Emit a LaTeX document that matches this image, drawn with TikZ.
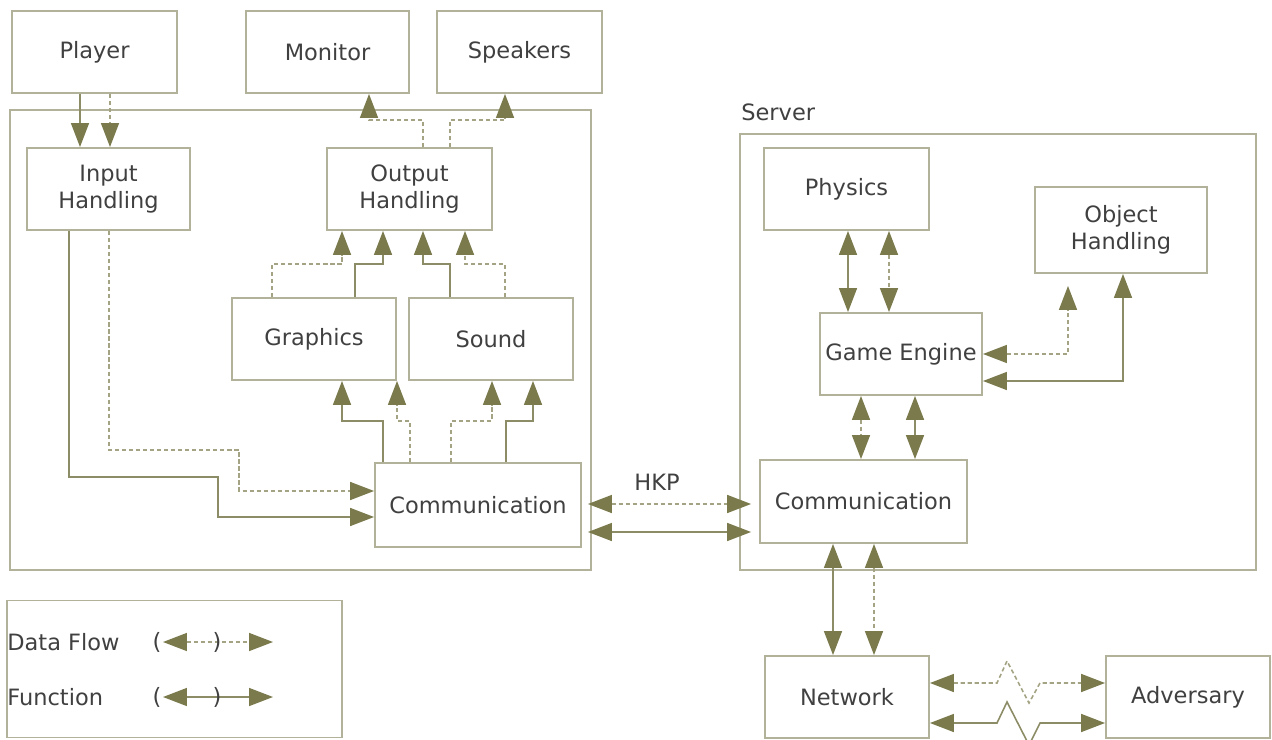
\documentclass[tikz,border=0pt]{standalone}
\usepackage{fontspec}
\setmainfont{DejaVu Sans}
\usetikzlibrary{arrows.meta}
\definecolor{boxc}{HTML}{B2B29A}
\definecolor{arrc}{HTML}{7A7A4C}
\definecolor{linec}{HTML}{8C8C66}
\definecolor{dashc}{HTML}{A4A484}
\definecolor{txtc}{HTML}{404040}
\tikzset{
  box/.style={draw=boxc, line width=1.1pt, inner sep=0pt, align=center, text=txtc,
    font=\fontsize{12.8}{15.4}\selectfont},
  lbl/.style={inner sep=0pt, text=txtc, font=\fontsize{12.8}{15.4}\selectfont},
  tri/.tip={Triangle[length=0.48cm, width=0.36cm, color=arrc, fill=arrc]},
  fn/.style={draw=linec, line width=0.9pt},
  df/.style={draw=dashc, line width=0.9pt, dash pattern=on 2.4pt off 1.6pt},
}
\begin{document}
\begin{tikzpicture}[x=0.02cm, y=-0.02cm]
\useasboundingbox (0,0) rectangle (1272,740);
\clip (0,0) rectangle (1272,740);
% boxes
\node[box, minimum width=3.30cm, minimum height=1.64cm] (player) at (94.5,52) {Player};
\node[box, minimum width=3.26cm, minimum height=1.64cm] (monitor) at (327.5,52) {Monitor};
\node[box, minimum width=3.30cm, minimum height=1.64cm] (speakers) at (519.5,52) {Speakers};
\node[box, minimum width=11.62cm, minimum height=9.20cm] (client) at (300.5,340) {};
\node[box, minimum width=3.26cm, minimum height=1.64cm] (input) at (108.5,189) {Input\\Handling};
\node[box, minimum width=3.30cm, minimum height=1.64cm] (output) at (409.5,189) {Output\\Handling};
\node[box, minimum width=3.28cm, minimum height=1.64cm] (graphics) at (314,339) {Graphics};
\node[box, minimum width=3.28cm, minimum height=1.64cm] (sound) at (491,339) {Sound};
\node[box, minimum width=4.12cm, minimum height=1.68cm] (ccomm) at (478,505) {Communication};
\node[lbl, anchor=west] (serverlbl) at (741,112) {Server};
\node[box, minimum width=10.32cm, minimum height=8.72cm] (server) at (998,352) {};
\node[box, minimum width=3.30cm, minimum height=1.64cm] (physics) at (846.5,189) {Physics};
\node[box, minimum width=3.44cm, minimum height=1.72cm] (object) at (1121,230) {Object\\Handling};
\node[box, minimum width=3.24cm, minimum height=1.64cm] (engine) at (901,354) {Game Engine};
\node[box, minimum width=4.14cm, minimum height=1.66cm] (scomm) at (863.5,501.5) {Communication};
\node[box, minimum width=6.70cm, minimum height=2.74cm] (legend) at (174.5,669) {};
\node[box, minimum width=3.28cm, minimum height=1.64cm] (network) at (847,697) {Network};
\node[box, minimum width=3.28cm, minimum height=1.64cm] (adversary) at (1188,697) {Adversary};
\node[lbl] (hkp) at (657,482) {HKP};
% player -> input
\draw[fn, -tri] (player.south -| 80,0) -- (input.north -| 80,0);
\draw[df, -tri] (player.south -| 110,0) -- (input.north -| 110,0);
% output -> monitor / speakers
\draw[df, -tri] (output.north -| 423,0) -- (423,120) -| (monitor.south -| 369,0);
\draw[df, -tri] (output.north -| 450,0) -- (450,120) -| (speakers.south -| 505,0);
% graphics / sound -> output
\draw[df, -tri] (graphics.north -| 272,0) -- (272,264) -| (output.south -| 342,0);
\draw[fn, -tri] (graphics.north -| 355,0) -- (355,264) -| (output.south -| 383,0);
\draw[fn, -tri] (sound.north -| 450,0) -- (450,264) -| (output.south -| 423,0);
\draw[df, -tri] (sound.north -| 505,0) -- (505,264) -| (output.south -| 465,0);
% comm -> graphics / sound
\draw[fn, -tri] (ccomm.north -| 383,0) -- (383,421) -| (graphics.south -| 342,0);
\draw[df, -tri] (ccomm.north -| 410,0) -- (410,421) -| (graphics.south -| 397,0);
\draw[df, -tri] (ccomm.north -| 451,0) -- (451,421) -| (sound.south -| 492,0);
\draw[fn, -tri] (ccomm.north -| 506,0) -- (506,421) -| (sound.south -| 533,0);
% input -> comm
\draw[fn, -tri] (input.south -| 69,0) |- (218,477) |- (ccomm.west |- 0,517);
\draw[df, -tri] (input.south -| 109,0) |- (239,450) |- (ccomm.west |- 0,491);
% HKP
\draw[df, tri-tri, shorten <=0.12cm, shorten >=0.16cm] (ccomm.east |- 0,504) -- (scomm.west |- 0,504);
\draw[fn, tri-tri, shorten <=0.12cm, shorten >=0.16cm] (ccomm.east |- 0,532) -- (scomm.west |- 0,532);
% physics <-> engine
\draw[fn, tri-tri] (physics.south -| 848,0) -- (engine.north -| 848,0);
\draw[df, tri-tri] (physics.south -| 889,0) -- (engine.north -| 889,0);
% engine <-> object
\draw[df, tri-tri, shorten >=0.24cm] (engine.east |- 0,354) -| (object.south -| 1068,0);
\draw[fn, tri-tri] (engine.east |- 0,381) -| (object.south -| 1123,0);
% engine <-> server comm
\draw[df, tri-tri] (engine.south -| 861,0) -- (scomm.north -| 861,0);
\draw[fn, tri-tri] (engine.south -| 915,0) -- (scomm.north -| 915,0);
% server comm <-> network
\draw[fn, tri-tri] (scomm.south -| 833,0) -- (network.north -| 833,0);
\draw[df, tri-tri] (scomm.south -| 874,0) -- (network.north -| 874,0);
% network <-> adversary
\draw[df, tri-tri] (network.east |- 0,683) -- (997,683) -- (1007,661) -- (1029,703) -- (1040,683) -- (adversary.west |- 0,683);
\draw[fn, tri-tri] (network.east |- 0,723) -- (997,723) -- (1007,702) -- (1029,745) -- (1040,723) -- (adversary.west |- 0,723);
% legend
\node[lbl, anchor=west] (ldf) at (7,642) {Data Flow};
\node[lbl, anchor=west] (lfn) at (7,697) {Function};
\coordinate (dfa) at (163,642);
\coordinate (dfb) at (273,642);
\coordinate (fna) at (163,697);
\coordinate (fnb) at (273,697);
\draw[df, tri-tri] (dfa) -- (dfb);
\draw[fn, tri-tri] (fna) -- (fnb);
\node[lbl] (p1) at (157,642) {(};
\node[lbl] (p2) at (217,642) {)};
\node[lbl] (p3) at (157,697) {(};
\node[lbl] (p4) at (217,697) {)};
\end{tikzpicture}
\end{document}
